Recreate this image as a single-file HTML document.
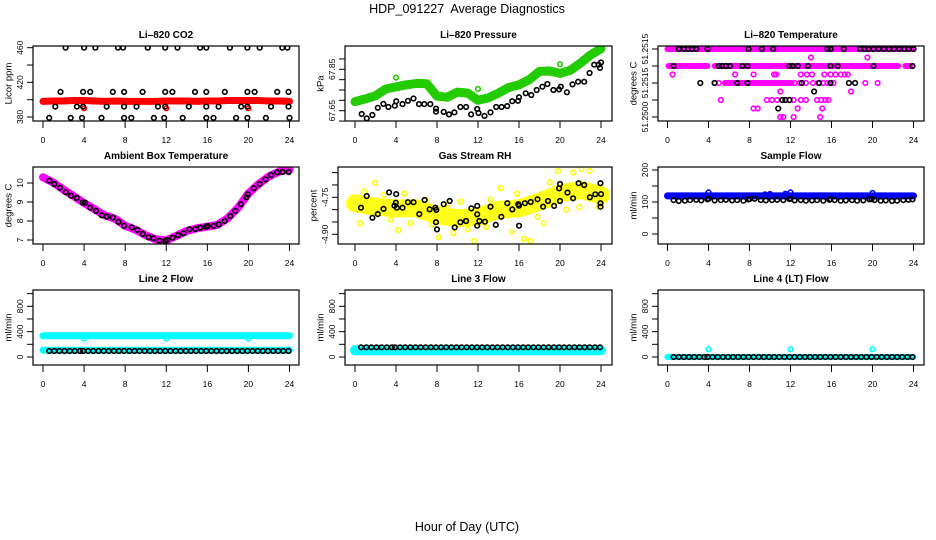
<!DOCTYPE html>
<html><head><meta charset="utf-8">
<style>
html,body{margin:0;padding:0;background:#fff;}
svg{display:block;font-family:"Liberation Sans",Arial,sans-serif;}
</style></head>
<body>
<svg id="chart" width="936" height="540" viewBox="0 0 936 540" xmlns="http://www.w3.org/2000/svg">
<rect x="0" y="0" width="936" height="540" fill="#fff"/>
<text x="467" y="13" text-anchor="middle" font-size="12.5" fill="#000">HDP_091227&#160; Average Diagnostics</text>
<text x="467" y="531" text-anchor="middle" font-size="12.5" fill="#000">Hour of Day (UTC)</text>
</svg>
<script>
// ---------- shared ----------
const hourTicks = [0,4,8,12,16,20,24];
const hourly = [0,1,2,3,4,5,6,7,8,9,10,11,12,13,14,15,16,17,18,19,20,21,22,23,24];

// ---------- Li-820 CO2 ----------
const co2Ticks = [380,400,420,440,460];
const co2TickLabels = ["380","","420","","460"];
const co2RedV = [398,398.5,398.5,399,399,398.5,398,398.5,398,398,398,398,398.5,398.5,398.5,398,398.5,398.5,399,399,399,399,398.5,398.5,398];
const co2RedOutT = [4.0,12.0,20.0];
const co2RedOutV = [390,390,390];
const co2BlackT = [2.2,4.0,5.1,7.3,7.8,10.2,11.9,13.1,15.3,15.9,18.2,19.9,21.1,23.3,23.8,
  1.7,3.9,4.6,6.8,7.9,9.7,11.9,12.6,14.8,15.9,17.7,19.9,20.6,22.8,23.9,
  1.2,3.3,3.9,6.2,7.9,9.1,11.2,11.9,14.2,15.9,17.1,19.3,19.9,22.2,23.9,
  0.6,2.7,3.8,5.7,7.9,8.6,10.8,11.8,13.6,15.9,16.6,18.8,19.9,21.7,24.0];
const co2BlackV = [460,460,460,460,460,460,460,460,460,460,460,460,460,460,460,
  409,409,409,409,409,409,409,409,409,409,409,409,409,409,409,
  392,392,392,392,392,392,392,392,392,392,392,392,392,392,392,
  379,379,379,379,379,379,379,379,379,379,379,379,379,379,379];

// ---------- Li-820 Pressure ----------
const presTicks = [67.60,67.65,67.70,67.75,67.80,67.85,67.90];
const presTickLabels = ["","67.65","","","","67.85",""];
const presGreenV = [67.694,67.707,67.722,67.755,67.765,67.775,67.782,67.780,67.72,67.715,67.74,67.735,67.70,67.712,67.735,67.762,67.775,67.800,67.840,67.842,67.830,67.845,67.880,67.920,67.950];
const presGreenOutT = [4.0,12.0,20.0];
const presGreenOutV = [67.81,67.755,67.874];
const presBlackT = [0.65,1.14,1.70,2.22,2.77,3.26,3.88,4.02,4.63,5.16,5.71,6.24,6.76,7.35,7.90,7.9,8.65,9.17,9.70,10.28,10.84,11.33,11.92,12.05,12.63,13.22,13.78,14.30,14.85,15.34,15.90,16.0,16.65,17.20,17.73,18.28,18.77,19.36,19.91,20.08,20.67,21.22,21.77,22.36,22.89,23.34,23.77,24.0,23.9];
const presBlackV = [67.634,67.613,67.629,67.664,67.683,67.668,67.674,67.696,67.682,67.698,67.709,67.682,67.682,67.682,67.66,67.645,67.644,67.632,67.642,67.668,67.668,67.632,67.658,67.639,67.625,67.642,67.668,67.668,67.672,67.696,67.698,67.715,67.734,67.726,67.75,67.766,67.779,67.75,67.753,67.766,67.739,67.777,67.79,67.79,67.832,67.872,67.872,67.883,67.857];

// ---------- Li-820 Temperature ----------
const tempTicks = [51.2516,51.2515,51.2514,51.2513,51.2512];
const tempTickLabels = ["51.2515","","51.2515","","51.2500"];
const tempSegStart = [0,0.1,4.6,23.2,5.6];
const tempSegEnd = [24,3.9,22.5,23.7,12.1];
const tempSegV = [51.2516,51.2515,51.2515,51.2515,51.2514];
const tempMagT = [0.5,6.6,8.4,10.4,10.6,13.0,13.6,14.1,15.3,15.9,16.4,16.9,17.3,17.6,
  14.0,19.5,
  4.6,5.0,12.4,12.9,13.5,14.2,14.7,15.2,15.6,16.2,19.3,20.5,
  11.0,17.9,
  5.2,9.7,10.2,10.7,12.3,13.0,13.5,14.6,15.0,15.4,15.7,
  8.4,8.8,12.7,15.1,
  11.0,11.3,12.3,14.9];
const tempMagV = [51.25145,51.25145,51.25145,51.25145,51.25145,51.25145,51.25145,51.25145,51.25145,51.25145,51.25145,51.25145,51.25145,51.25145,
  51.25155,51.25155,
  51.2514,51.2514,51.2514,51.2514,51.2514,51.2514,51.2514,51.2514,51.2514,51.2514,51.2514,51.2514,
  51.25135,51.25135,
  51.2513,51.2513,51.2513,51.2513,51.2513,51.2513,51.2513,51.2513,51.2513,51.2513,51.2513,
  51.25125,51.25125,51.25125,51.25125,
  51.2512,51.2512,51.2512,51.2512];
const tempBlkT = [1.1,1.6,2.0,2.4,2.8,3.9,7.9,9.2,10.3,15.6,15.9,17.2,18.8,19.2,19.6,20.1,20.6,21.1,21.6,22.1,22.6,23.1,23.5,24.0,
  0.6,5.0,5.3,5.7,6.1,7.3,7.8,11.9,12.2,12.7,13.7,15.9,16.6,20.1,23.9,
  3.2,4.6,6.8,7.8,13.1,14.8,15.9,17.7,18.3,
  14.3,11.2,11.5,11.9,10.8];
const tempBlkV = [51.2516,51.2516,51.2516,51.2516,51.2516,51.2516,51.2516,51.2516,51.2516,51.2516,51.2516,51.2516,51.2516,51.2516,51.2516,51.2516,51.2516,51.2516,51.2516,51.2516,51.2516,51.2516,51.2516,51.2516,
  51.2515,51.2515,51.2515,51.2515,51.2515,51.2515,51.2515,51.2515,51.2515,51.2515,51.2515,51.2515,51.2515,51.2515,51.2515,
  51.2514,51.2514,51.2514,51.2514,51.2514,51.2514,51.2514,51.2514,51.2514,
  51.25135,51.2513,51.2513,51.2513,51.25125];

// ---------- Ambient Box Temperature ----------
const ambTicks = [7,8,9,10];
const ambTickLabels = ["7","8","9","10"];
const ambMagV = [10.30,10.02,9.65,9.30,8.95,8.62,8.30,8.12,7.75,7.55,7.25,7.03,6.98,7.22,7.48,7.62,7.70,7.80,8.15,8.70,9.45,9.95,10.35,10.60,10.70];
const ambBlkT = [0.62,1.10,1.66,2.21,2.73,3.28,3.87,4.10,4.59,5.17,5.72,6.21,6.80,7.35,7.90,8.65,9.20,9.72,10.28,10.76,11.35,11.90,12.07,12.62,13.14,13.69,14.24,14.83,15.32,15.87,16.03,16.62,17.11,17.69,18.24,18.73,19.28,19.80,19.93,20.52,21.10,21.66,22.21,22.80,23.32,23.93];
const ambBlkV = [10.12,9.95,9.75,9.51,9.33,9.21,8.98,8.96,8.70,8.53,8.30,8.23,8.18,7.95,7.75,7.67,7.53,7.32,7.14,7.09,6.96,6.96,7.00,7.12,7.26,7.35,7.56,7.58,7.65,7.70,7.74,7.74,7.82,8.00,8.26,8.53,8.88,9.25,9.40,9.72,9.95,10.19,10.42,10.56,10.58,10.58];

// ---------- Gas Stream RH ----------
const rhTicks = [-4.65,-4.70,-4.75,-4.80,-4.85,-4.90];
const rhTickLabels = ["","","-4.75","","","-4.90"];
const rhYellowT = [0,2,4,6,8,10,12,14,16,18,20,22,24];
const rhYellowV = [-4.774,-4.788,-4.795,-4.795,-4.822,-4.835,-4.829,-4.801,-4.795,-4.768,-4.734,-4.72,-4.741];
const rhYellowOutT = [1.96,4.24,8.16,11.6,14.2,16.5,17.1,19.8,21.3,22.1,22.9,0.9,4.8,15.8,10.3,13.9,5.4,9.6,15.3,18.4,23.7,0.5,2.8,6.9,9.0,12.8,17.8,20.6,3.5,7.5,13.2,19.0,21.9,11.0];
const rhYellowOutV = [-4.691,-4.883,-4.912,-4.927,-4.714,-4.919,-4.927,-4.643,-4.65,-4.635,-4.643,-4.727,-4.735,-4.735,-4.768,-4.788,-4.855,-4.896,-4.89,-4.856,-4.788,-4.856,-4.74,-4.76,-4.78,-4.87,-4.83,-4.80,-4.84,-4.86,-4.76,-4.69,-4.79,-4.88];

const rhBlkT = [0.59,1.14,1.70,2.22,2.78,3.33,3.85,3.98,4.02,4.08,4.63,5.16,5.71,6.27,6.79,7.28,7.84,7.93,7.90,8.0,8.65,9.24,9.73,10.28,10.84,11.36,11.92,11.92,11.92,12.14,12.67,13.22,13.74,14.27,14.86,15.35,15.93,16.0,16.0,16.58,17.14,17.80,18.35,18.83,19.42,19.91,20.0,20.0,20.73,21.28,21.81,22.36,22.92,23.44,24.0,23.95,23.95,23.95];
const rhBlkV = [-4.792,-4.745,-4.833,-4.818,-4.797,-4.73,-4.784,-4.772,-4.737,-4.792,-4.792,-4.77,-4.77,-4.818,-4.761,-4.799,-4.792,-4.801,-4.851,-4.88,-4.778,-4.765,-4.872,-4.851,-4.846,-4.795,-4.785,-4.819,-4.865,-4.846,-4.849,-4.788,-4.862,-4.829,-4.774,-4.799,-4.778,-4.784,-4.865,-4.774,-4.769,-4.758,-4.788,-4.765,-4.785,-4.714,-4.696,-4.765,-4.731,-4.754,-4.693,-4.70,-4.75,-4.738,-4.737,-4.693,-4.774,-4.788];

// ---------- Sample Flow ----------
const sfTicks = [0,50,100,150,200];
const sfTickLabels = ["0","","100","","200"];
const sfBlueV = [119,119,119,119,119,119,119,119,119,119,119,119,119,119,119,119,119,119,119,119,119,119,119,119,119];
const sfBlueOutT = [4.0,9.5,10.0,11.5,12.0,20.0];
const sfBlueOutV = [130,124,125,126,130,128];
const sfBlkT = [0.6,1.1,1.7,2.2,2.8,3.3,3.9,4.0,4.6,5.2,5.7,6.3,6.8,7.4,7.9,8.0,8.5,9.1,9.6,10.2,10.7,11.3,11.9,12.0,12.4,13.0,13.5,14.1,14.6,15.2,15.8,15.9,16.3,16.9,17.4,18.0,18.5,19.1,19.7,19.9,20.2,20.8,21.3,21.9,22.4,23.0,23.5,23.9];
const sfBlkV = [106,103,104,106,107,105,108,110,105,106,107,105,106,104,108,109,110,106,105,106,107,106,109,110,105,106,104,105,106,104,107,109,106,104,105,106,104,105,108,109,106,104,105,103,104,106,107,108];

// ---------- Line flows ----------
const flowTicks = [0,200,400,600,800,1000];
const flowTickLabels = ["0","","400","","800",""];
const lineBlkT = [0.6,1.1,1.6,2.1,2.6,3.1,3.6,3.9,4.4,4.9,5.4,5.9,6.4,6.9,7.4,7.9,8.4,8.9,9.4,9.9,10.4,10.9,11.4,11.9,12.4,12.9,13.4,13.9,14.4,14.9,15.4,15.9,16.4,16.9,17.4,17.9,18.4,18.9,19.4,19.9,20.4,20.9,21.4,21.9,22.4,22.9,23.4,23.9];
const line2BlkV = [95,95,95,95,95,95,95,95,95,95,95,95,95,95,95,95,95,95,95,95,95,95,95,95,95,95,95,95,95,95,95,95,95,95,95,95,95,95,95,95,95,95,95,95,95,95,95,95];
const line2CyanHighV = [336,336,336,336,336,336,336,336,336,336,336,336,336,336,336,336,336,336,336,336,336,336,336,336,336];
const line2CyanLowV = [108,108,108,108,108,108,108,108,108,108,108,108,108,108,108,108,108,108,108,108,108,108,108,108,108];
const line2DipT = [4,12,20];
const line2DipV = [290,290,290];
const line3BlkV = [153,153,153,153,153,153,153,153,153,153,153,153,153,153,153,153,153,153,153,153,153,153,153,153,153,153,153,153,153,153,153,153,153,153,153,153,153,153,153,153,153,153,153,153,153,153,153,153];
const line3CyanV = [105,105,105,105,105,105,105,105,105,105,105,105,105,105,105,105,105,105,105,105,105,105,105,105,105];
const line4BlkV = [0,0,0,0,0,0,0,0,0,0,0,0,0,0,0,0,0,0,0,0,0,0,0,0,0,0,0,0,0,0,0,0,0,0,0,0,0,0,0,0,0,0,0,0,0,0,0,0];
const line4CyanV = [0,0,0,0,0,0,0,0,0,0,0,0,0,0,0,0,0,0,0,0,0,0,0,0,0];
const line4OutT = [4,12,20];
const line4OutV = [121,121,121];

// ---------- drawing ----------
const svg = document.getElementById('chart');
const NS = 'http://www.w3.org/2000/svg';
function mk(tag, attrs, parent) {
  const el = document.createElementNS(NS, tag);
  for (const k in attrs) el.setAttribute(k, attrs[k]);
  (parent || svg).appendChild(el);
  return el;
}

function makePanel(cfg) {
  const g = mk('g', {});
  
  
  const sx = t => cfg.x0 + t * (cfg.x24 - cfg.x0) / 24;
  const sy = v => cfg.ya + (v - cfg.va) * (cfg.yb - cfg.ya) / (cfg.vb - cfg.va);
  const plot = mk('g', {}, g);
  
  
  const clipId = 'clip-' + cfg.name;
  const cp = mk('clipPath', {id: clipId}, g);
  mk('rect', {x: cfg.left, y: cfg.top, width: cfg.right - cfg.left, height: cfg.bottom - cfg.top}, cp);
  plot.setAttribute('clip-path', 'url(#' + clipId + ')');
  const box = mk('rect', {x: cfg.left, y: cfg.top, width: cfg.right - cfg.left, height: cfg.bottom - cfg.top, fill: 'none', stroke: '#000', 'stroke-width': 1.2}, g);
  
  
  const title = mk('text', {x: (cfg.left + cfg.right) / 2, y: cfg.top - 8, 'text-anchor': 'middle', 'font-size': 10, 'font-weight': 'bold'}, g);
  title.textContent = cfg.title;
  
  
  const xa = mk('g', {}, g);
  
  
  hourTicks.forEach(h => {
    const x = sx(h);
    const tk = mk('line', {x1: x, x2: x, y1: cfg.bottom, y2: cfg.bottom + 7, stroke: '#000', 'stroke-width': 1}, xa);
    
    
    const tl = mk('text', {x: x, y: cfg.bottom + 22, 'text-anchor': 'middle', 'font-size': 8.5}, xa);
    tl.textContent = String(h);
    
    
  });
  const ya = mk('g', {}, g);
  
  
  cfg.ticks.forEach((v, i) => {
    const y = sy(v);
    const tk = mk('line', {x1: cfg.left - 6, x2: cfg.left, y1: y, y2: y, stroke: '#000', 'stroke-width': 1}, ya);
    
    
    if (cfg.tickLabels[i]) {
      const lx = cfg.left - 13;
      const tl = mk('text', {x: lx, y: y + 3, 'text-anchor': 'middle', 'font-size': 8.5, transform: 'rotate(-90 ' + lx + ' ' + y + ')'}, ya);
      tl.textContent = cfg.tickLabels[i];
      
      
    }
  });
  const ymid = (cfg.top + cfg.bottom) / 2;
  const tx = cfg.left - 25;
  const yt = mk('text', {x: tx, y: ymid + 3.5, 'text-anchor': 'middle', 'font-size': 9.5, transform: 'rotate(-90 ' + tx + ' ' + ymid + ')'}, g);
  yt.textContent = cfg.ylab;
  
  
  return {sx, sy, plot};
}

function band(p, ts, vs, color, width, name, op) {
  const d = ts.map((t, i) => (i ? 'L' : 'M') + p.sx(t).toFixed(1) + ' ' + p.sy(vs[i]).toFixed(1)).join(' ');
  const el = mk('path', {d: d, fill: 'none', stroke: color, 'stroke-width': width, 'stroke-linejoin': 'round', 'stroke-linecap': 'round', 'stroke-opacity': op || 1}, p.plot);
  
  
}
function pts(p, ts, vs, color, name, r) {
  const g = mk('g', {}, p.plot);
  
  
  ts.forEach((t, i) => {
    const c = mk('circle', {cx: p.sx(t).toFixed(1), cy: p.sy(vs[i]).toFixed(1), r: r || 2.3, fill: 'none', stroke: color, 'stroke-width': 1.6}, g);
    
    
  });
}
function segs(p, starts, ends, vs, color, width, name) {
  starts.forEach((s, i) => {
    const l = mk('line', {x1: p.sx(s), x2: p.sx(ends[i]), y1: p.sy(vs[i]), y2: p.sy(vs[i]), stroke: color, 'stroke-width': width, 'stroke-linecap': 'round'}, p.plot);
    
    
  });
}

const C1 = {left: 33, right: 299, x0: 43, x24: 289.5};
const C2 = {left: 345, right: 612, x0: 355, x24: 601};
const C3 = {left: 658, right: 924, x0: 667.5, x24: 913.5};
const R1 = {top: 46, bottom: 121};
const R2 = {top: 167, bottom: 244};
const R3 = {top: 290, bottom: 365};

const p1 = makePanel(Object.assign({name: 'co2', title: 'Li\u2013820 CO2', ylab: 'Licor ppm', ticks: co2Ticks, tickLabels: co2TickLabels, va: 380, ya: 117, vb: 460, yb: 47.7}, C1, R1));
band(p1, hourly, co2RedV, '#ff0000', 7, 'co2-red-series');
pts(p1, co2RedOutT, co2RedOutV, '#ff0000', 'co2-red-outliers');
pts(p1, co2BlackT, co2BlackV, '#000', 'co2-black-series');

const p2 = makePanel(Object.assign({name: 'pressure', title: 'Li\u2013820 Pressure', ylab: 'kPa', ticks: presTicks, tickLabels: presTickLabels, va: 67.65, ya: 110.7, vb: 67.85, yb: 69.3}, C2, R1));
band(p2, hourly, presGreenV, '#22cc00', 9, 'pressure-green-series');
pts(p2, presGreenOutT, presGreenOutV, '#22cc00', 'pressure-green-outliers');
pts(p2, presBlackT, presBlackV, '#000', 'pressure-black-series');

const p3 = makePanel(Object.assign({name: 'li820-temperature', title: 'Li\u2013820 Temperature', ylab: 'degrees C', ticks: tempTicks, tickLabels: tempTickLabels, va: 51.2516, ya: 49, vb: 51.2512, yb: 117}, C3, R1));
segs(p3, tempSegStart, tempSegEnd, tempSegV, '#ff00ff', 6, 'temperature-magenta-band');
pts(p3, tempMagT, tempMagV, '#ff00ff', 'temperature-magenta-series');
pts(p3, tempBlkT, tempBlkV, '#000', 'temperature-black-series');

const p4 = makePanel(Object.assign({name: 'ambient-temperature', title: 'Ambient Box Temperature', ylab: 'degrees C', ticks: ambTicks, tickLabels: ambTickLabels, va: 7, ya: 240, vb: 10, yb: 183}, C1, R2));
band(p4, hourly, ambMagV, '#ff00ff', 8, 'ambient-magenta-series');
pts(p4, ambBlkT, ambBlkV, '#000', 'ambient-black-series');

const p5 = makePanel(Object.assign({name: 'gas-rh', title: 'Gas Stream RH', ylab: 'percent', ticks: rhTicks, tickLabels: rhTickLabels, va: -4.75, ya: 197.3, vb: -4.90, yb: 234.3}, C2, {left: 338}, R2));
band(p5, rhYellowT, rhYellowV, '#ffff00', 18, 'rh-yellow-series', 0.9);
pts(p5, rhYellowOutT, rhYellowOutV, '#ffff00', 'rh-yellow-outliers');
pts(p5, rhBlkT, rhBlkV, '#000', 'rh-black-series');

const p6 = makePanel(Object.assign({name: 'sample-flow', title: 'Sample Flow', ylab: 'ml/min', ticks: sfTicks, tickLabels: sfTickLabels, va: 0, ya: 234, vb: 200, yb: 170}, C3, R2));
band(p6, hourly, sfBlueV, '#0000ff', 7, 'sample-flow-blue-series');
pts(p6, sfBlueOutT, sfBlueOutV, '#0000ff', 'sample-flow-blue-outliers');
pts(p6, sfBlkT, sfBlkV, '#000', 'sample-flow-black-series');

const p7 = makePanel(Object.assign({name: 'line2-flow', title: 'Line 2 Flow', ylab: 'ml/min', ticks: flowTicks, tickLabels: flowTickLabels, va: 0, ya: 357, vb: 800, yb: 306.3}, C1, R3));
band(p7, hourly, line2CyanHighV, '#00ffff', 7, 'line2-cyan-high-series');
pts(p7, line2DipT, line2DipV, '#00ffff', 'line2-cyan-dips');
band(p7, hourly, line2CyanLowV, '#00ffff', 7, 'line2-cyan-low-series');
pts(p7, lineBlkT, line2BlkV, '#000', 'line2-black-series');

const p8 = makePanel(Object.assign({name: 'line3-flow', title: 'Line 3 Flow', ylab: 'ml/min', ticks: flowTicks, tickLabels: flowTickLabels, va: 0, ya: 357, vb: 800, yb: 306.3}, C2, R3));
band(p8, hourly, line3CyanV, '#00ffff', 10, 'line3-cyan-series');
pts(p8, lineBlkT, line3BlkV, '#000', 'line3-black-series');

const p9 = makePanel(Object.assign({name: 'line4-flow', title: 'Line 4 (LT) Flow', ylab: 'ml/min', ticks: flowTicks, tickLabels: flowTickLabels, va: 0, ya: 357, vb: 800, yb: 306.3}, C3, R3));
band(p9, hourly, line4CyanV, '#00ffff', 6, 'line4-cyan-series');
pts(p9, line4OutT, line4OutV, '#00ffff', 'line4-cyan-outliers');
pts(p9, lineBlkT, line4BlkV, '#000', 'line4-black-series');
</script>
</body></html>
